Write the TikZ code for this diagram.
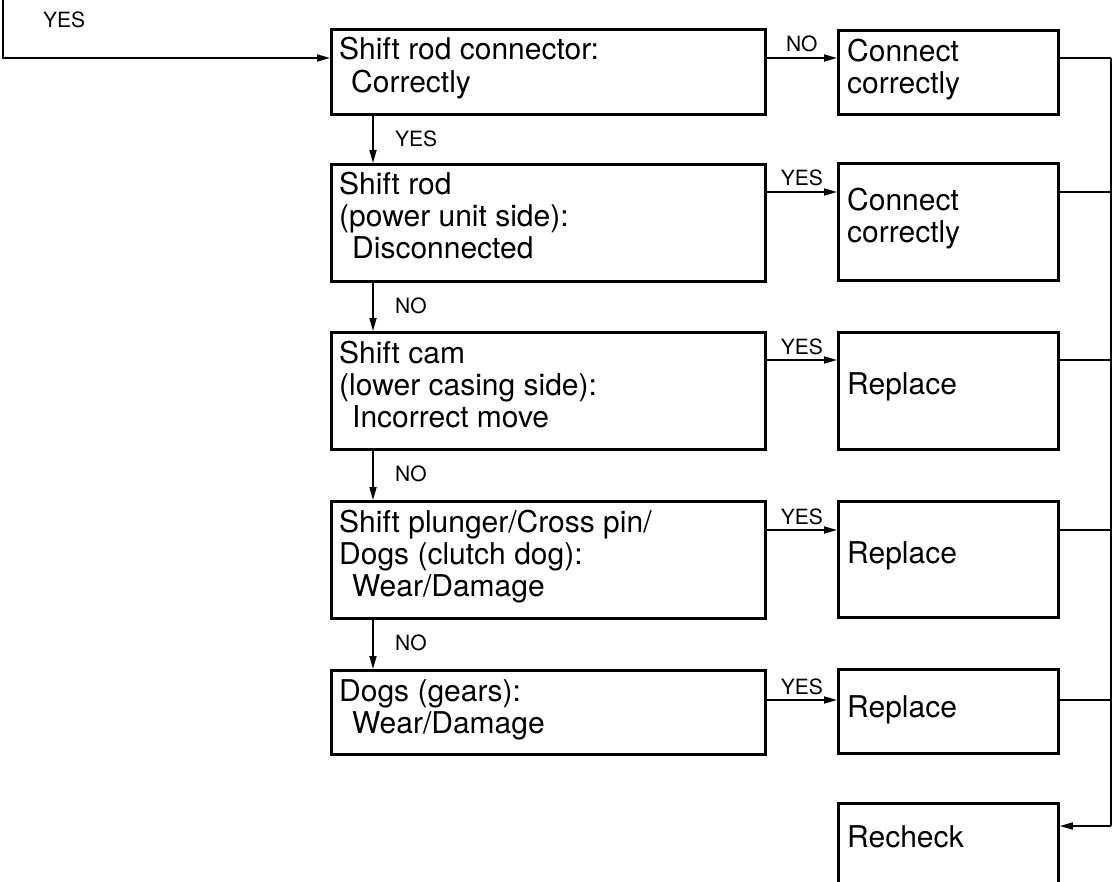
\documentclass[tikz,border=0pt]{standalone}
\usepackage{fontspec}
\setmainfont{TeX Gyre Heros}
\usetikzlibrary{arrows.meta, positioning, calc}
\newcommand{\rows}[1]{\begin{tabular}[t]{@{}l@{}}#1\end{tabular}}

\begin{document}
\begin{tikzpicture}[
  x=1pt, y=-1pt,
  check/.style={draw, line width=2.8pt, minimum width=434pt, inner sep=0pt, anchor=north west},
  action/.style={draw, line width=2.8pt, minimum width=220pt, inner sep=0pt, anchor=north west},
  txt/.style={anchor=base west, inner sep=0pt, font=\fontsize{30}{32}\selectfont},
  lbl/.style={inner sep=0pt, font=\fontsize{21}{23}\selectfont},
  flow/.style={line width=1.7pt, -{Triangle[length=13pt, width=7pt]}},
  wire/.style={line width=1.7pt},
]
\useasboundingbox (0,0) rectangle (1115,882);
\clip (0,0) rectangle (1115,882);

\node[check, minimum height=85pt]  (b1) at (330,28)  {};
\node[check, minimum height=117pt] (b2) at (330,163) {};
\node[check, minimum height=117pt] (b3) at (330,331) {};
\node[check, minimum height=117pt] (b4) at (330,500) {};
\node[check, minimum height=84pt]  (b5) at (330,669) {};
\node[action, minimum height=84pt]  (r1) at (837,29)  {};
\node[action, minimum height=117pt] (r2) at (837,162) {};
\node[action, minimum height=117pt] (r3) at (837,331) {};
\node[action, minimum height=116pt] (r4) at (837,500) {};
\node[action, minimum height=84pt]  (r5) at (837,668) {};
\node[action, minimum height=117pt] (rc) at (837,802) {};

\node[txt] (t1) at ([shift={(9,32)}]b1.north west) {\rows{Shift rod connector:\\\hspace*{12pt}Correctly}};
\node[txt] (t2) at ([shift={(9,32)}]b2.north west) {\rows{Shift rod\\(power unit side):\\\hspace*{13pt}Disconnected}};
\node[txt] (t3) at ([shift={(9,32)}]b3.north west) {\rows{Shift cam\\(lower casing side):\\\hspace*{13pt}Incorrect move}};
\node[txt] (t4) at ([shift={(9,32)}]b4.north west) {\rows{Shift plunger/Cross pin/\\Dogs (clutch dog):\\\hspace*{13pt}Wear/Damage}};
\node[txt] (t5) at ([shift={(9,32)}]b5.north west) {\rows{Dogs (gears):\\\hspace*{13pt}Wear/Damage}};
\node[txt] (u1) at ([shift={(10,33)}]r1.north west) {\rows{Connect\\correctly}};
\node[txt] (u2) at ([shift={(10,49)}]r2.north west) {\rows{Connect\\correctly}};
\node[txt] (u3) at ([shift={(10,63)}]r3.north west) {Replace};
\node[txt] (u4) at ([shift={(10,63)}]r4.north west) {Replace};
\node[txt] (u5) at ([shift={(10,49)}]r5.north west) {Replace};
\node[txt] (uc) at ([shift={(10,45)}]rc.north west) {Recheck};

\coordinate (entry) at (3,0);
\draw[flow] (entry) |- ([yshift=-30pt]b1.north west);
\node[lbl, anchor=base west] (yin) at (43,28) {YES};

\foreach \a/\b/\t in {b1/b2/YES, b2/b3/NO, b3/b4/NO, b4/b5/NO}{
  \draw[flow] ([xshift=43pt]\a.south west) -- ([xshift=43pt]\b.north west);
  \node[lbl, anchor=base west] at ([shift={(65,31)}]\a.south west) {\t};
}

\coordinate (bustop) at (1111,58);
\coordinate (busbot) at (1111,826);
\foreach \a/\r/\t/\d in {b1/r1/NO/30, b2/r2/YES/29, b3/r3/YES/29, b4/r4/YES/30, b5/r5/YES/31}{
  \draw[flow] ([yshift=-\d pt]\a.north east) -- ([yshift=-\d pt]\a.north east -| \r.west);
  \node[lbl, anchor=base] at ([shift={(35,\d-6)}]\a.north east) {\t};
  \draw[wire] ([yshift=-\d pt]\a.north east -| \r.east) -- ([yshift=-\d pt]\a.north east -| bustop);
}
\draw[wire] (bustop) -- (busbot);
\draw[flow] (busbot) -- (busbot -| rc.east);
\end{tikzpicture}
\end{document}
